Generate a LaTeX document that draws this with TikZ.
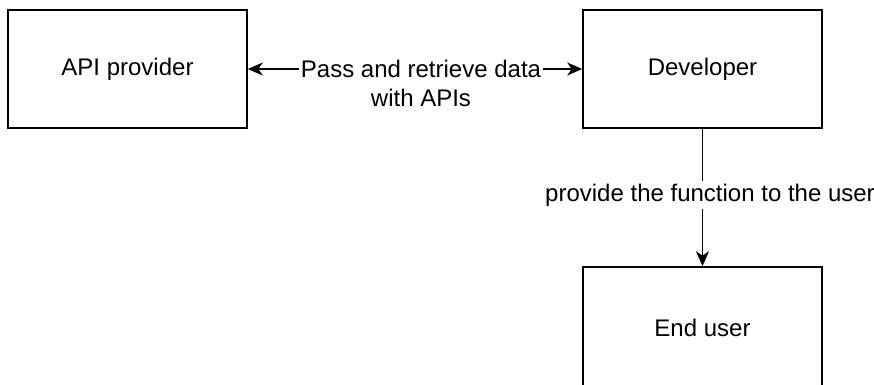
\documentclass[tikz,border=0pt]{standalone}
\usepackage{fontspec}
\setmainfont{Liberation Sans}
\usetikzlibrary{arrows.meta}
\begin{document}
\begin{tikzpicture}[x=1pt,y=-1pt,
  box/.style={draw=black,line width=1.6pt,fill=white,minimum width=239pt,minimum height=118pt,inner sep=0pt,font=\fontsize{24}{28.8}\selectfont},
  lbl/.style={fill=white,inner sep=0pt,inner xsep=2pt,align=center,font=\fontsize{24}{28.8}\selectfont},
  conn/.style={line width=1.6pt,draw=black},
  tip/.style={-{Stealth[length=15pt,width=13pt,inset=4.5pt]}}
]
\useasboundingbox (0,0) rectangle (874,384);
\clip (0,0) rectangle (874,384);
\fill[white] (0,0) rectangle (874,384);
\node[box] (api) at (127.5,69) {API provider};
\node[box] (dev) at (702.5,69) {Developer};
\node[box,minimum height=122pt] (end) at (702.5,328) {End user};
\draw[conn,{Stealth[length=15pt,width=13pt,inset=4.5pt]}-{Stealth[length=15pt,width=13pt,inset=4.5pt]}] (api.east) -- (dev.west);
\node[lbl] (pass) at (421,83.4) {Pass and retrieve data\\with APIs};
\draw[conn,tip] (dev.south) -- (end.north);
\node[lbl,inner ysep=3pt] (prov) at (710,195) {provide the function to the user};
\end{tikzpicture}
\end{document}
